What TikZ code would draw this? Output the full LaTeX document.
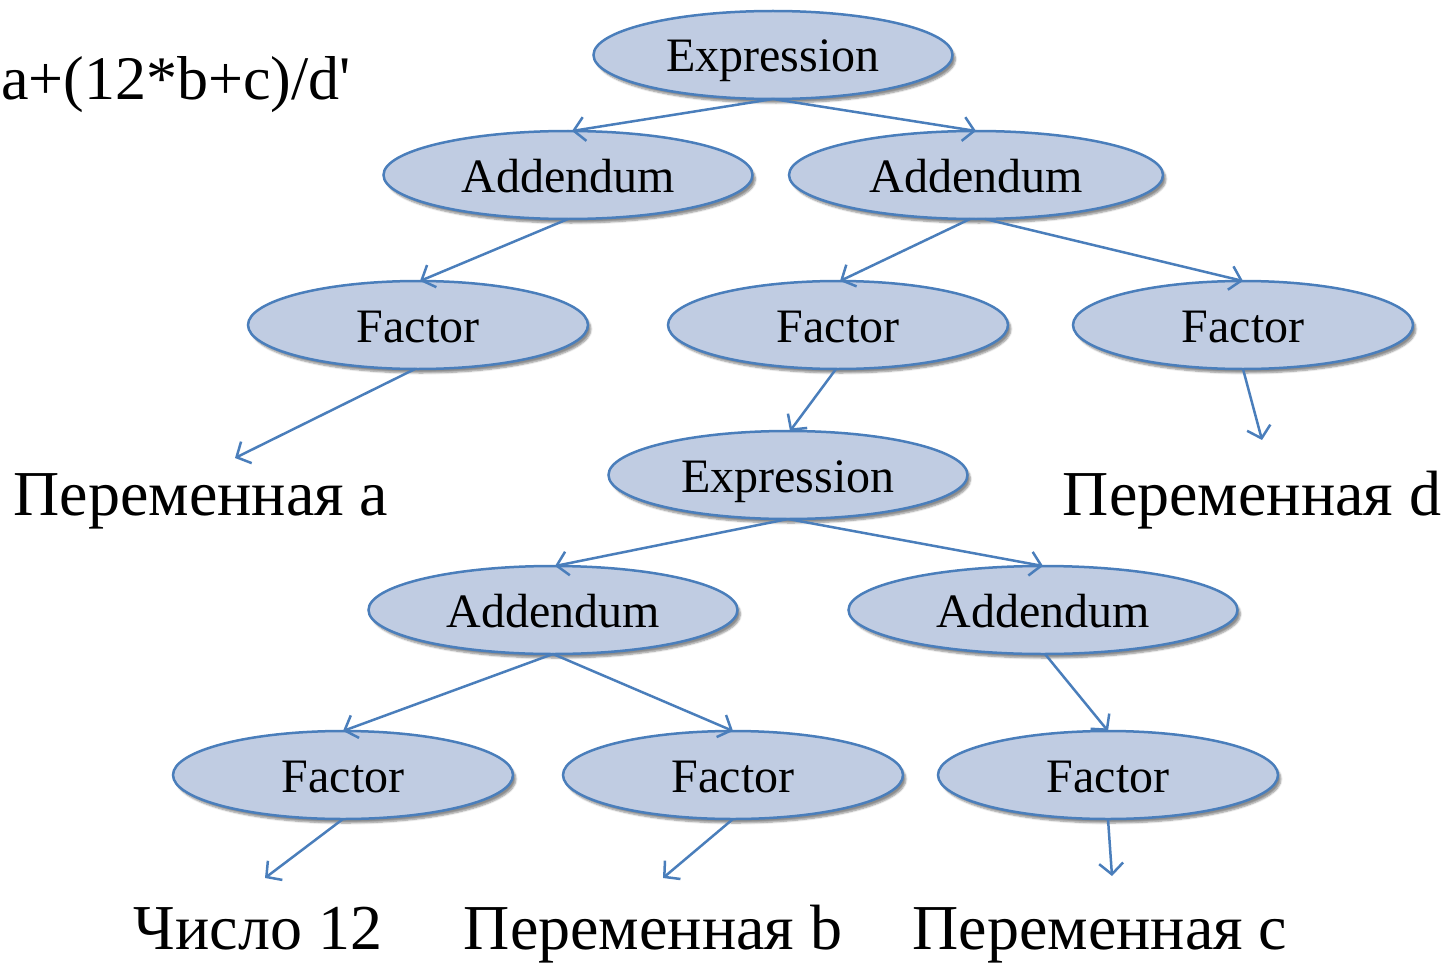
\documentclass[tikz,border=0pt]{standalone}
\usepackage{fontspec}
\setmainfont{Liberation Serif}
\newfontfamily\rawserif{Liberation Serif}[Ligatures=TeXOff]
\usetikzlibrary{shapes.geometric,arrows.meta,shadows.blur}
\definecolor{nodefill}{HTML}{C0CCE2}
\definecolor{linecol}{HTML}{4A7EBB}
\tikzset{
  oval/.style={ellipse, draw=linecol, line width=2.5pt, fill=nodefill,
    minimum width=#1, minimum height=88pt, inner sep=0pt, outer sep=0pt,
    text height=34pt, text depth=0pt,
    font=\fontsize{48}{56}\selectfont,
    blur shadow={shadow xshift=3pt, shadow yshift=-4pt, shadow blur steps=6, shadow opacity=45}},
  oval/.default=340pt,
  leaf/.style={font=\fontsize{64}{74}\selectfont, inner sep=0pt, anchor=base},
  conn/.style={draw=linecol, line width=2.5pt, -{Straight Barb[length=11pt,width=24pt,line width=2.5pt]}}
}
\begin{document}
\begin{tikzpicture}[x=1pt,y=-1pt]
\useasboundingbox (0,0) rectangle (1445,963);
% top-left expression
\node[font=\rawserif\fontsize{62}{72}\selectfont, inner sep=0pt, anchor=base west] (expr) at (1,100) {a+(12*b+c)/d'};
% ellipses
\node[oval=359pt] (e1) at (773,55) {Expression};
\node[oval=369pt] (a1) at (568,175) {Addendum};
\node[oval=374pt] (a2) at (976,175) {Addendum};
\node[oval] (f1) at (418,325) {Factor};
\node[oval] (f2) at (838,325) {Factor};
\node[oval] (f3) at (1243,325) {Factor};
\node[oval=359pt] (e2) at (788,475) {Expression};
\node[oval=369pt] (a3) at (553,610) {Addendum};
\node[oval=389pt] (a4) at (1043,610) {Addendum};
\node[oval] (f4) at (343,775) {Factor};
\node[oval] (f5) at (733,775) {Factor};
\node[oval] (f6) at (1108,775) {Factor};
% leaves
\node[leaf] (va) at (201,515) {Переменная a};
\node[leaf] (vd) at (1252,515) {Переменная d};
\node[leaf] (n12) at (258,949) {Число 12};
\node[leaf] (vb) at (653,949) {Переменная b};
\node[leaf] (vc) at (1100,949) {Переменная c};
% free ends of connectors
\coordinate (ta) at (235,458);
\coordinate (td) at (1262,440);
\coordinate (t12) at (265,878);
\coordinate (tb) at (663,878);
\coordinate (tc) at (1112,876);
\coordinate (a2s1) at ([xshift=-6pt]a2.south);
\coordinate (a2s2) at ([xshift=9pt]a2.south);
% connectors
\draw[conn] (e1.south) -- ([xshift=4pt]a1.north);
\draw[conn] (e1.south) -- (a2.north);
\draw[conn] (a1.south) -- ([xshift=2pt]f1.north);
\draw[conn] (a2s1) -- ([xshift=2pt]f2.north);
\draw[conn] (a2s2) -- (f3.north);
\draw[conn] ([xshift=-3pt]f1.south) -- (ta);
\draw[conn] ([xshift=-2pt]f2.south) -- ([xshift=2pt]e2.north);
\draw[conn] (f3.south) -- (td);
\draw[conn] (e2.south) -- ([xshift=2pt]a3.north);
\draw[conn] (e2.south) -- (a4.north);
\draw[conn] (a3.south) -- (f4.north);
\draw[conn] (a3.south) -- (f5.north);
\draw[conn] ([xshift=2pt]a4.south) -- (f6.north);
\draw[conn] (f4.south) -- (t12);
\draw[conn] (f5.south) -- (tb);
\draw[conn] (f6.south) -- (tc);
\end{tikzpicture}
\end{document}
